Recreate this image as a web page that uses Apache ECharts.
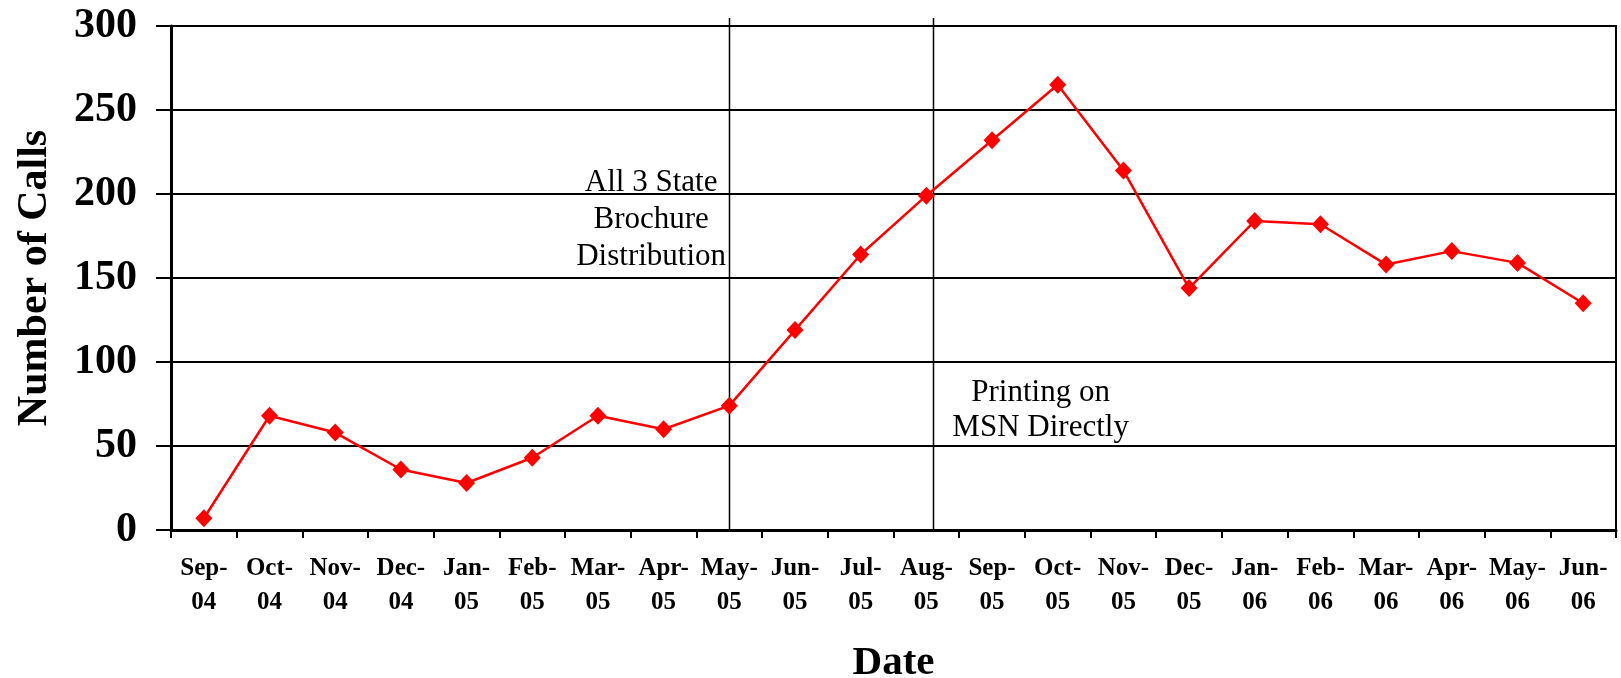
<!DOCTYPE html>
<html>
<head>
<meta charset="utf-8">
<title>Number of Calls</title>
<script src="https://cdn.jsdelivr.net/npm/echarts@6/dist/echarts.min.js"></script>
<style>
html, body { margin: 0; padding: 0; background: #ffffff; }
#chart { width: 1621px; height: 678px; }
</style>
</head>
<body>
<div id="chart"></div>
<script>
// monthly call counts
const months = ['Sep-04', 'Oct-04', 'Nov-04', 'Dec-04', 'Jan-05', 'Feb-05', 'Mar-05', 'Apr-05',
  'May-05', 'Jun-05', 'Jul-05', 'Aug-05', 'Sep-05', 'Oct-05', 'Nov-05', 'Dec-05',
  'Jan-06', 'Feb-06', 'Mar-06', 'Apr-06', 'May-06', 'Jun-06']
const calls = [7, 68, 58, 36, 28, 43, 68, 60, 74, 119, 164, 199, 232, 265, 214, 144,
  184, 182, 158, 166, 159, 135]

// events marked with a vertical line
const eventMonths = ['May-05', 'Aug-05']
const eventLabels = ['All 3 State\nBrochure\nDistribution', 'Printing on\nMSN Directly']

const serif = '"Liberation Serif", "Times New Roman", serif'

const chart = echarts.init(document.getElementById('chart'))

chart.setOption({
  animation: false,
  backgroundColor: '#ffffff',
  grid: {
    left: 171,
    right: 5,
    top: 26,
    bottom: 148,
    containLabel: false,
    outerBoundsMode: 'none',
    show: true,
    borderColor: '#000',
    borderWidth: 2,
    backgroundColor: 'transparent'
  },
  xAxis: {
    type: 'category',
    data: months,
    boundaryGap: true,
    name: 'Date',
    nameLocation: 'middle',
    nameGap: 113,
    nameTextStyle: { fontFamily: serif, fontWeight: 'bold', fontSize: 41, color: '#000' },
    axisLine: { lineStyle: { color: '#000', width: 3 } },
    axisTick: { show: true, inside: false, length: 8, alignWithLabel: false, lineStyle: { color: '#000', width: 2 } },
    axisLabel: {
      interval: 0,
      margin: 22,
      fontFamily: serif,
      fontWeight: 'bold',
      fontSize: 25,
      lineHeight: 34,
      color: '#000',
      formatter: function (v) { return v.replace('-', '-\n') }
    },
    splitLine: { show: false }
  },
  yAxis: {
    type: 'value',
    min: 0,
    max: 300,
    interval: 50,
    name: 'Number of Calls',
    nameLocation: 'middle',
    nameGap: 115,
    nameRotate: 90,
    nameTextStyle: { fontFamily: serif, fontWeight: 'bold', fontSize: 42, color: '#000' },
    axisLine: { show: true, lineStyle: { color: '#000', width: 3 } },
    axisTick: { show: true, inside: false, length: 15, lineStyle: { color: '#000', width: 2 } },
    axisLabel: { margin: 34, fontFamily: serif, fontWeight: 'bold', fontSize: 42, color: '#000' },
    splitLine: { show: true, lineStyle: { color: '#000', width: 2 } }
  },
  series: [{
    name: 'Calls',
    type: 'line',
    data: calls,
    symbol: 'diamond',
    symbolSize: [17, 18],
    itemStyle: { color: '#ff0000' },
    lineStyle: { color: '#ff0000', width: 2.5 },
    z: 5
  }]
})

// pixel x of a (possibly fractional) category position
function xAt (pos) {
  const i = Math.floor(pos)
  const a = chart.convertToPixel({ xAxisIndex: 0 }, months[i])
  if (pos === i) return a
  const b = chart.convertToPixel({ xAxisIndex: 0 }, months[i + 1])
  return a + (b - a) * (pos - i)
}
function yAt (v) {
  return chart.convertToPixel({ yAxisIndex: 0 }, v)
}

// line offsets (in categories) and label anchors
const lineShift = [0, 0.1]
const textShift = [-1.19, 1.74]
const textValue = [184.5, 71]
const textLead = [37, 35]

const graphics = []
eventMonths.forEach(function (m, k) {
  const pos = months.indexOf(m) + lineShift[k]
  const x = Math.round(xAt(pos)) + 0.5
  graphics.push({
    type: 'line',
    z: 3,
    shape: { x1: x, y1: yAt(300) - 8, x2: x, y2: yAt(0) },
    style: { stroke: '#000', lineWidth: 1.5 }
  })
  graphics.push({
    type: 'text',
    z: 4,
    style: {
      x: xAt(months.indexOf(m) + textShift[k]),
      y: yAt(textValue[k]),
      text: eventLabels[k],
      align: 'center',
      verticalAlign: 'middle',
      font: '31px ' + serif,
      lineHeight: textLead[k],
      fill: '#000'
    }
  })
})
chart.setOption({ graphic: graphics })
</script>
</body>
</html>
